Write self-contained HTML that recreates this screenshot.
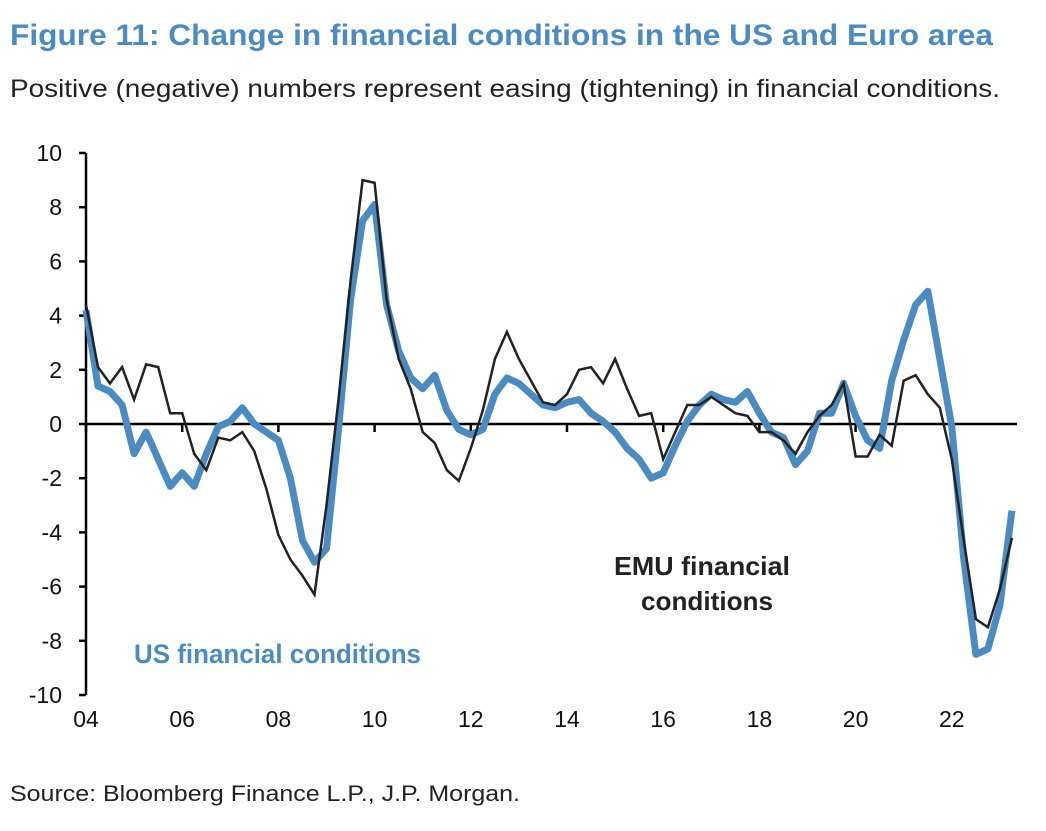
<!DOCTYPE html>
<html><head><meta charset="utf-8"><style>
body{margin:0;background:#fff;width:1046px;height:826px;overflow:hidden;font-family:"Liberation Sans",Arial,sans-serif}
</style></head><body>
<svg width="1046" height="826">
<text x="10" y="45" font-size="30" font-weight="bold" fill="#4a8bc2" textLength="983" lengthAdjust="spacingAndGlyphs">Figure 11: Change in financial conditions in the US and Euro area</text>
<text x="10" y="97" font-size="25" fill="#222" textLength="990" lengthAdjust="spacingAndGlyphs">Positive (negative) numbers represent easing (tightening) in financial conditions.</text>
<g id="axes"></g>
<g id="series"></g>
<text x="614" y="575" font-size="26" font-weight="bold" fill="#222" textLength="176" lengthAdjust="spacingAndGlyphs">EMU financial</text>
<text x="641" y="610" font-size="26" font-weight="bold" fill="#222" textLength="132" lengthAdjust="spacingAndGlyphs">conditions</text>
<text x="134" y="663" font-size="27" font-weight="bold" fill="#4a8bc2" textLength="287" lengthAdjust="spacingAndGlyphs">US financial conditions</text>
<text x="10" y="801" font-size="22" fill="#222" textLength="510" lengthAdjust="spacingAndGlyphs">Source: Bloomberg Finance L.P., J.P. Morgan.</text>
</svg>
<script>
const yTicks=[10,8,6,4,2,0,-2,-4,-6,-8,-10];
const xTickYears=[2004,2006,2008,2010,2012,2014,2016,2018,2020,2022];
const xTickLabels=["04","06","08","10","12","14","16","18","20","22"];
const startYear=2004;
const usValues=[4.2,1.4,1.2,0.7,-1.1,-0.3,-1.3,-2.3,-1.8,-2.3,-1.1,-0.1,0.1,0.6,0,-0.3,-0.6,-2,-4.3,-5.1,-4.6,-0.2,4.6,7.5,8.1,4.4,2.7,1.7,1.3,1.8,0.5,-0.2,-0.4,-0.2,1.1,1.7,1.5,1.1,0.7,0.6,0.8,0.9,0.4,0.1,-0.3,-0.9,-1.3,-2.0,-1.8,-0.8,0.1,0.7,1.1,0.9,0.8,1.2,0.4,-0.3,-0.5,-1.5,-1.0,0.4,0.4,1.5,0.3,-0.6,-0.9,1.6,3.1,4.4,4.9,2.4,-0.1,-5.0,-8.5,-8.3,-6.7,-3.2];
const emuValues=[4.4,2.1,1.5,2.1,0.9,2.2,2.1,0.4,0.4,-1.1,-1.7,-0.5,-0.6,-0.3,-1.0,-2.4,-4.1,-5.0,-5.6,-6.3,-3.0,0.9,5.3,9.0,8.9,4.6,2.4,1.3,-0.3,-0.7,-1.7,-2.1,-0.9,0.5,2.4,3.4,2.4,1.6,0.8,0.7,1.1,2.0,2.1,1.5,2.4,1.3,0.3,0.4,-1.3,-0.3,0.7,0.7,1.0,0.7,0.4,0.3,-0.3,-0.3,-0.6,-1.1,-0.3,0.3,0.7,1.5,-1.2,-1.2,-0.4,-0.8,1.6,1.8,1.1,0.6,-1.3,-4.3,-7.2,-7.5,-6.1,-4.2];
const NS="http://www.w3.org/2000/svg";
const X=yr=>86+(yr-2004)*48.1;
const Y=v=>424-v*27.1;
function mk(tag,attrs,parent){const e=document.createElementNS(NS,tag);for(const k in attrs)e.setAttribute(k,attrs[k]);parent.appendChild(e);return e;}
const ax=document.getElementById('axes');
let yl=mk('line',{x1:86,x2:86,y1:Y(10),y2:Y(-10),stroke:'#000','stroke-width':2.5},ax);


yTicks.forEach(v=>{
 let t=mk('line',{x1:79,x2:86,y1:Y(v),y2:Y(v),stroke:'#000','stroke-width':2.5},ax);
 
 
 let l=mk('text',{x:62,y:Y(v)+8,'font-size':23,'text-anchor':'end',fill:'#111'},ax);
 l.textContent=v;
 
 
});
let zl=mk('line',{x1:86,x2:1017,y1:Y(0),y2:Y(0),stroke:'#000','stroke-width':2.5},ax);


xTickYears.forEach((yr,i)=>{
 let t=mk('line',{x1:X(yr),x2:X(yr),y1:Y(0),y2:Y(0)+8,stroke:'#000','stroke-width':2.5},ax);
 
 
 let l=mk('text',{x:X(yr),y:727,'font-size':23,'text-anchor':'middle',fill:'#111'},ax);
 l.textContent=xTickLabels[i];
 
 
});
const sg=document.getElementById('series');
function pts(vals){return vals.map((v,i)=>X(startYear+i*0.25).toFixed(1)+','+Y(v).toFixed(1)).join(' ');}
let us=mk('polyline',{points:pts(usValues),fill:'none',stroke:'#4a8bc2','stroke-width':7,'stroke-linejoin':'round'},sg);


let emu=mk('polyline',{points:pts(emuValues),fill:'none',stroke:'#222','stroke-width':2.5,'stroke-linejoin':'miter'},sg);


</script>
</body></html>
